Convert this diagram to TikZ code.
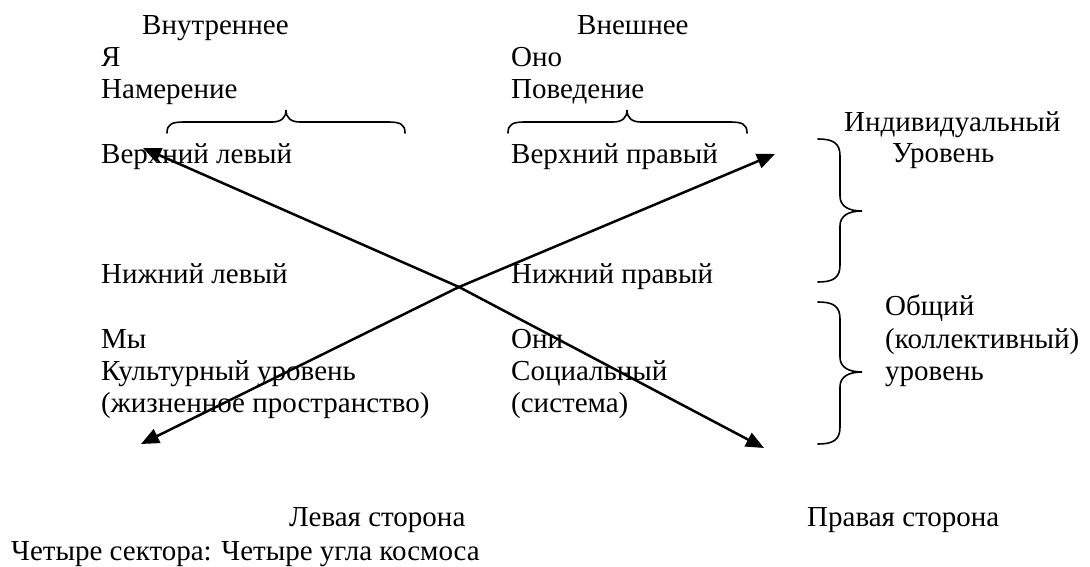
\documentclass[tikz,border=0pt]{standalone}
\usepackage{fontspec}
\setmainfont{LiberationSerif-Regular.ttf}
\usetikzlibrary{arrows.meta}
\tikzset{
  txt/.style={inner sep=0pt, anchor=base west, font=\fontsize{29}{33}\selectfont},
  brc/.style={line width=1.6pt, line cap=round},
  arr/.style={line width=2.5pt, {Triangle[length=18pt,width=15pt]}-{Triangle[length=18pt,width=15pt]}}
}
\begin{document}
\begin{tikzpicture}[x=1pt,y=-1pt]
\useasboundingbox (0,0) rectangle (1090,567);
% texts
\node[txt] (inner) at (142,35) {Внутреннее};
\node[txt] (ya) at (101,67) {Я};
\node[txt] (intent) at (101,99) {Намерение};
\node[txt] (ul) at (101,164) {Верхний левый};
\node[txt] (outer) at (577,35) {Внешнее};
\node[txt] (ono) at (511,67) {Оно};
\node[txt] (behav) at (511,99) {Поведение};
\node[txt] (ur) at (511,164) {Верхний правый};
\node[txt] (indiv) at (844,132) {Индивидуальный};
\node[txt] (level) at (892,163) {Уровень};
\node[txt] (ll) at (101,283) {Нижний левый};
\node[txt] (lr) at (511,283) {Нижний правый};
\node[txt] (we) at (101,348) {Мы};
\node[txt] (cult) at (101,380) {Культурный уровень};
\node[txt] (life) at (101,412) {(жизненное пространство)};
\node[txt] (they) at (511,348) {Они};
\node[txt] (soc) at (511,380) {Социальный};
\node[txt] (sys) at (511,412) {(система)};
\node[txt] (common) at (885,315) {Общий};
\node[txt] (coll) at (885,348) {(коллективный)};
\node[txt] (lvl2) at (885,380) {уровень};
\node[txt] (lside) at (289,526) {Левая сторона};
\node[txt] (rside) at (807,526) {Правая сторона};
\node[txt] (caption) at (11,560) {Четыре сектора: Четыре угла космоса};
% braces
\draw[brc] (167,133) .. controls (167,124) and (172,122) .. (184,122) -- (272,122) .. controls (281,122) and (286,118) .. (286,110) .. controls (286,118) and (291,122) .. (300,122) -- (388,122) .. controls (400,122) and (405,124) .. (405,133);
\draw[brc] (508,133) .. controls (508,124) and (513,122) .. (525,122) -- (613,122) .. controls (622,122) and (627,118) .. (627,110) .. controls (627,118) and (632,122) .. (641,122) -- (730,122) .. controls (742,122) and (747,124) .. (747,133);
\draw[brc] (818,139) .. controls (833,139) and (840,143) .. (840,156) -- (840,196) .. controls (840,206) and (848,211) .. (862,211) .. controls (848,211) and (840,216) .. (840,226) -- (840,265) .. controls (840,278) and (833,282) .. (818,282);
\draw[brc] (818,302) .. controls (833,302) and (840,306) .. (840,319) -- (840,357) .. controls (840,367) and (848,372) .. (862,372) .. controls (848,372) and (840,377) .. (840,387) -- (840,427) .. controls (840,440) and (833,444) .. (818,444);
% arrows
\coordinate (tl) at (143,148);
\coordinate (br) at (764,448);
\coordinate (bl) at (141,444);
\coordinate (tr) at (775,154);
\coordinate (X) at (459,287);
\draw[arr] (tl) -- (X) -- (br);
\draw[arr] (bl) -- (X) -- (tr);
\end{tikzpicture}
\end{document}
